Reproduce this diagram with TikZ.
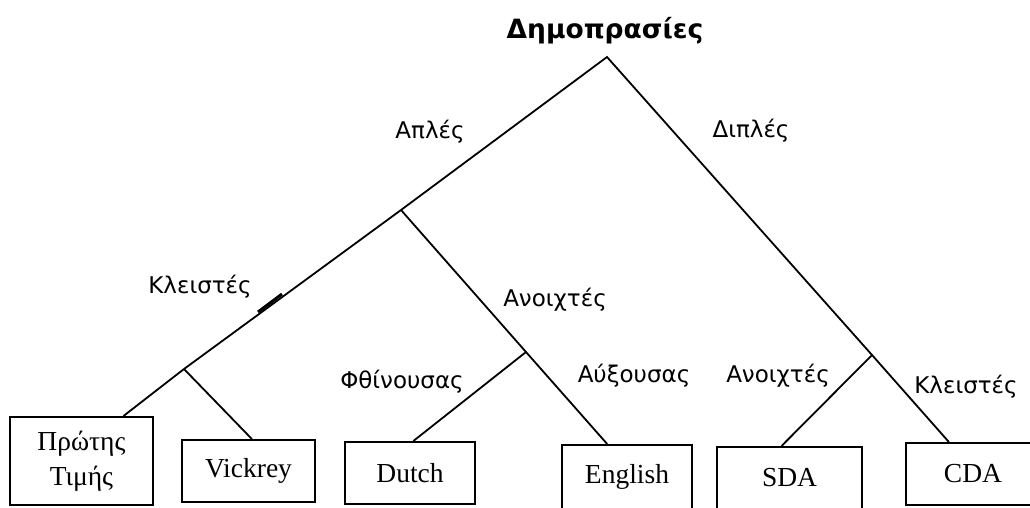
\documentclass[tikz,border=0pt]{standalone}
\usepackage{fontspec}
\setmainfont{Liberation Serif}
\newfontfamily\labelfont{DejaVu Sans}

\begin{document}
\begin{tikzpicture}[x=1pt, y=-1pt,
    branch/.style={line width=1.8pt},
    leaf/.style={draw, line width=2pt, inner sep=0pt, align=center,
      font=\fontsize{27.5}{35}\selectfont},
    lbl/.style={anchor=base, inner sep=0pt, font=\labelfont\fontsize{23}{27}\selectfont}]
  \useasboundingbox (0,0) rectangle (1030,507);
  \node[anchor=base, inner sep=0pt, font=\labelfont\bfseries\fontsize{26.5}{30}\selectfont]
    (root) at (605,38) {Δημοπρασίες};
  \coordinate (apex) at (607,57);
  \coordinate (simple) at (401,210);
  \coordinate (closed) at (184,369);
  \coordinate (open) at (526,352);
  \coordinate (double) at (872,355);
  \node[leaf, minimum width=143pt, minimum height=88pt] (first) at (81.5,461) {Πρώτης\\Τιμής};
  \node[leaf, minimum width=133pt, minimum height=62pt] (vickrey) at (248.5,471) {Vickrey};
  \node[leaf, minimum width=130pt, minimum height=62pt] (dutch) at (410,473) {Dutch};
  \node[leaf, minimum width=130pt, minimum height=64pt] (english) at (627,477) {English};
  \node[leaf, minimum width=145pt, minimum height=62pt] (sda) at (789.5,478) {SDA};
  \node[leaf, minimum width=134pt, minimum height=62pt] (cda) at (973,474) {CDA};
  \draw[branch] (first.47) -- (closed) -- (simple) -- (apex) -- (double) -- (cda.127);
  \draw[branch] (simple) -- (open) -- (english.121);
  \draw[branch] (closed) -- (vickrey.84);
  \draw[branch] (open) -- (dutch.84);
  \draw[branch] (double) -- (sda.104);
  \draw[line width=3pt] (258,312) -- (282,294);
  \node[lbl] (simplelbl) at (430,138) {Απλές};
  \node[lbl] (doublelbl) at (751,137) {Διπλές};
  \node[lbl] (closedlbl) at (200,293) {Κλειστές};
  \node[lbl] (openlbl) at (555,306) {Ανοιχτές};
  \node[lbl] (desclbl) at (402,388) {Φθίνουσας};
  \node[lbl] (asclbl) at (634,382) {Αύξουσας};
  \node[lbl] (dopenlbl) at (778,382) {Ανοιχτές};
  \node[lbl] (dclosedlbl) at (966,393) {Κλειστές};
\end{tikzpicture}
\end{document}
